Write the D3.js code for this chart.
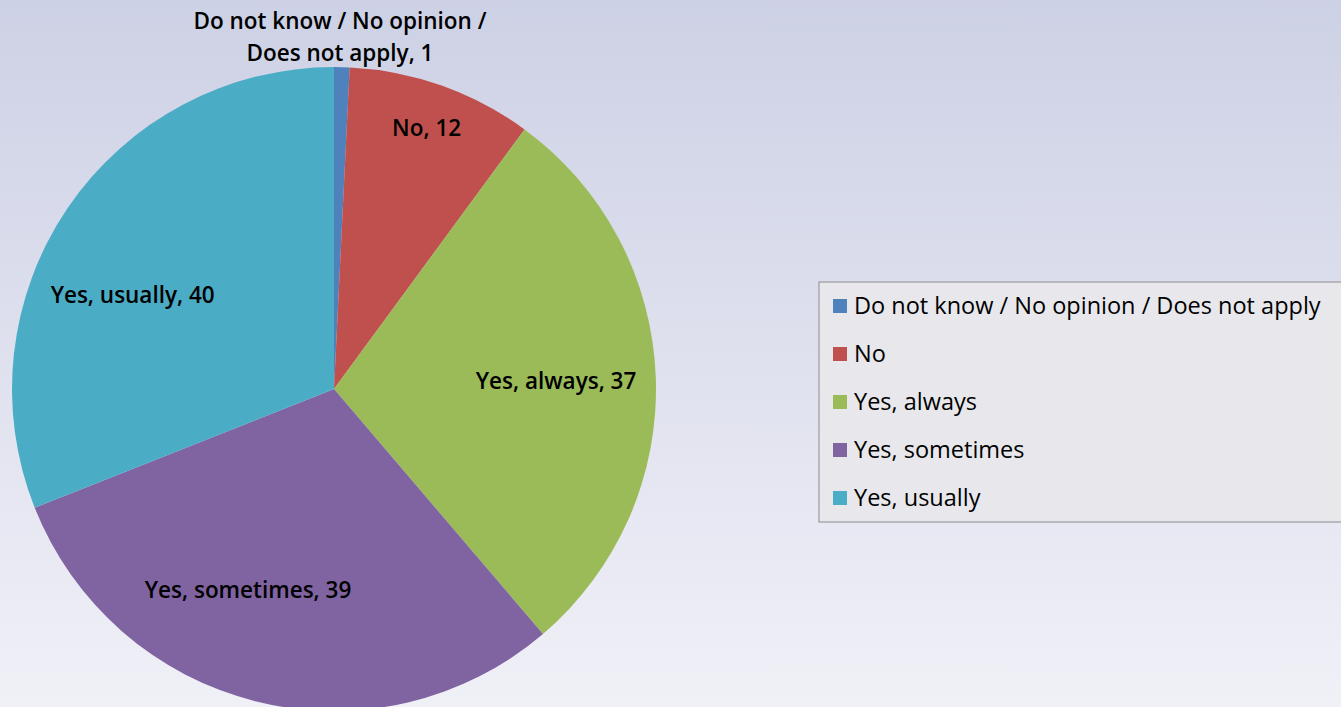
<!DOCTYPE html>
<html>
<head>
<meta charset="utf-8">
<script src="https://cdn.jsdelivr.net/npm/d3@7"></script>
<style>
  body { margin: 0; overflow: hidden; }
  svg { display: block; font-family: "Open Sans", sans-serif; }
</style>
</head>
<body>
<script>
// chart data
var categories = ['Do not know / No opinion / Does not apply', 'No', 'Yes, always', 'Yes, sometimes', 'Yes, usually'];
var values = [1, 12, 37, 39, 40];
var colors = ['#4f81bd', '#c0504d', '#9bbb59', '#8064a2', '#4bacc6'];

var width = 1341, height = 707;
var cx = 334, cy = 389, radius = 322;

var svg = d3.select("body").append("svg")
  .attr("width", width)
  .attr("height", height);

// background gradient
var grad = svg.append("defs").append("linearGradient")
  .attr("id", "bg").attr("x1", 0).attr("y1", 0).attr("x2", 0).attr("y2", 1);
grad.append("stop").attr("offset", "0%").attr("stop-color", "#cdd1e5");
grad.append("stop").attr("offset", "100%").attr("stop-color", "#f0f0f7");
svg.append("rect").attr("width", width).attr("height", height).attr("fill", "url(#bg)");

var data = categories.map(function (c, i) { return { name: c, value: values[i], color: colors[i] }; });

var pie = d3.pie().sort(null).value(function (d) { return d.value; });
var arc = d3.arc().innerRadius(0).outerRadius(radius);
var arcs = pie(data);

var g = svg.append("g").attr("transform", "translate(" + cx + "," + cy + ")");

g.selectAll("path")
  .data(arcs)
  .enter().append("path")
  .attr("d", arc)
  .attr("fill", function (d) { return d.data.color; });

// labels - radius and small angle nudge per slice (excel "best fit" look)
var labelR = [0, 0.86, 0.69, 0.68, 0.69];
var nudge = [0, 0, 0, 0.16, -0.16];
g.selectAll("text.lbl")
  .data(arcs.slice(1))
  .enter().append("text")
  .attr("class", "lbl")
  .attr("text-anchor", "middle")
  .attr("dy", "0.35em")
  .style("font-size", "22.5px")
  .style("font-weight", 600)
  .attr("fill", "#000")
  .attr("transform", function (d, i) {
    var a = (d.startAngle + d.endAngle) / 2 + nudge[i + 1];
    var r = radius * labelR[i + 1];
    return "translate(" + (r * Math.sin(a)) + "," + (-r * Math.cos(a)) + ")";
  })
  .text(function (d) { return d.data.name + ", " + d.data.value; });

// small slice label sits above the pie
var topLabel = svg.append("text")
  .attr("text-anchor", "middle")
  .style("font-size", "22.5px")
  .style("font-weight", 600)
  .attr("x", cx + 6).attr("y", 29);
topLabel.append("tspan").attr("x", cx + 6).attr("dy", 0).text("Do not know / No opinion /");
topLabel.append("tspan").attr("x", cx + 6).attr("dy", 32).text("Does not apply, " + values[0]);

// legend
var legend = svg.append("g").attr("transform", "translate(819,282)");
legend.append("rect")
  .attr("width", 540).attr("height", 240)
  .attr("fill", "#e8e8ec")
  .attr("stroke", "#8c8c8c")
  .attr("stroke-width", 1);

var rowY = d3.scaleBand().domain(categories).range([0, 240]);

var items = legend.selectAll("g.item")
  .data(data)
  .enter().append("g")
  .attr("class", "item")
  .attr("transform", function (d) { return "translate(0," + (rowY(d.name) + rowY.bandwidth() / 2) + ")"; });

items.append("rect")
  .attr("x", 14).attr("y", -7)
  .attr("width", 14).attr("height", 14)
  .attr("fill", function (d) { return d.color; });

items.append("text")
  .attr("x", 35).attr("dy", "0.35em")
  .style("font-size", "23.5px")
  .style("font-weight", 500)
  .attr("fill", "#000")
  .text(function (d) { return d.name; });
</script>
</body>
</html>
